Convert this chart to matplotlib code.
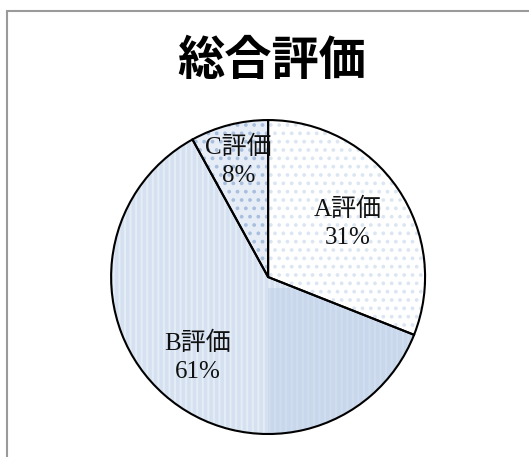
import numpy as np
import matplotlib
matplotlib.use("Agg")
import matplotlib.pyplot as plt
from matplotlib.patches import Rectangle

# data
labels = ["A評価", "B評価", "C評価"]
shares = [31, 61, 8]

# per-slice look
face_colors = ["#ffffff", "#d5e1f0", "#e6edf7"]
hatch_colors = ["#dce6f2", "#e4ecf6", "#a8bfdd"]
hatches = ["..", "|||", ".."]
label_dist = [0.61, 0.68, 0.76]

plt.rcParams["hatch.linewidth"] = 1.5

fig = plt.figure(figsize=(5.29, 4.57), dpi=100)
fig.patch.set_facecolor("white")

# gray chart-area border (only top/left visible in the crop)
fig.patches.append(Rectangle((6.5 / 529, -0.1), 1.2, (457 - 10.5) / 457 + 0.1,
                             transform=fig.transFigure, fill=False,
                             edgecolor="#9a9a9a", linewidth=1.5))

ax = fig.add_axes([0.210, 0.0503, 0.5936, 0.687])

# pattern layer
wedges, _ = ax.pie(shares, startangle=90, counterclock=False, radius=1)
for w, fc, hc, h in zip(wedges, face_colors, hatch_colors, hatches):
    w.set_facecolor(fc)
    w.set_edgecolor(hc)
    w.set_linewidth(0)
    w.set_hatch(h)

# darker shading on the lower-right part of the B slice (gradient fill in the original)
shade = Rectangle((0, -1.05), 1.1, 0.98, facecolor="#b9cce6", alpha=0.45,
                  edgecolor="none")
ax.add_patch(shade)
shade.set_clip_path(wedges[1])

# outline layer
outline, _ = ax.pie(shares, startangle=90, counterclock=False, radius=1,
                    wedgeprops=dict(fill=False, edgecolor="black", linewidth=1.5))

# labels, placed on each wedge's mid angle
for w, lab, s, d in zip(wedges, labels, shares, label_dist):
    ang = np.deg2rad((w.theta1 + w.theta2) / 2)
    ax.text(d * np.cos(ang), d * np.sin(ang), f"{lab}\n{s}%",
            ha="center", va="center", fontsize=18, linespacing=1.35,
            family=["Liberation Serif", "Noto Sans CJK JP"], color="#111111")

ax.set_xlim(-1, 1)
ax.set_ylim(-1, 1)
ax.set_aspect("equal")
ax.axis("off")

fig.text(0.514, 0.867, "総合評価", ha="center", va="center",
         fontsize=34, fontweight="bold", family=["Noto Sans CJK JP", "DejaVu Sans"])

fig.savefig("out.png", dpi=100)
